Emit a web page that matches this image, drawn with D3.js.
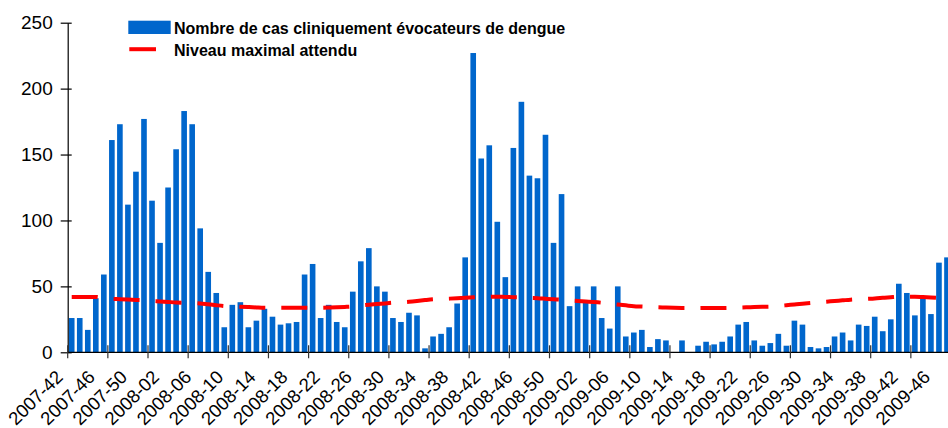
<!DOCTYPE html>
<html>
<head>
<meta charset="utf-8">
<script src="https://cdn.jsdelivr.net/npm/d3@7"></script>
<style>
  html, body { margin: 0; padding: 0; background: #fff; }
  svg { display: block; }
  text { font-family: "Liberation Sans", Arial, sans-serif; fill: #000; }
</style>
</head>
<body>
<svg id="chart" width="948" height="428"></svg>
<script>
// ---- Data ----
const weeks = [
  "2007-42","2007-43","2007-44","2007-45","2007-46","2007-47","2007-48","2007-49","2007-50","2007-51","2007-52",
  "2008-01","2008-02","2008-03","2008-04","2008-05","2008-06","2008-07","2008-08","2008-09","2008-10",
  "2008-11","2008-12","2008-13","2008-14","2008-15","2008-16","2008-17","2008-18","2008-19","2008-20",
  "2008-21","2008-22","2008-23","2008-24","2008-25","2008-26","2008-27","2008-28","2008-29","2008-30",
  "2008-31","2008-32","2008-33","2008-34","2008-35","2008-36","2008-37","2008-38","2008-39","2008-40",
  "2008-41","2008-42","2008-43","2008-44","2008-45","2008-46","2008-47","2008-48","2008-49","2008-50",
  "2008-51","2008-52",
  "2009-01","2009-02","2009-03","2009-04","2009-05","2009-06","2009-07","2009-08","2009-09","2009-10",
  "2009-11","2009-12","2009-13","2009-14","2009-15","2009-16","2009-17","2009-18","2009-19","2009-20",
  "2009-21","2009-22","2009-23","2009-24","2009-25","2009-26","2009-27","2009-28","2009-29","2009-30",
  "2009-31","2009-32","2009-33","2009-34","2009-35","2009-36","2009-37","2009-38","2009-39","2009-40",
  "2009-41","2009-42","2009-43","2009-44","2009-45","2009-46","2009-47"
];

const cases = [
  26, 26, 17, 41, 59, 161, 173, 112, 137, 177, 115,
  83, 125, 154, 183, 173, 94, 61, 45, 19, 36,
  38, 19, 24, 33, 27, 21, 22, 23, 59, 67,
  26, 36, 23, 19, 46, 69, 79, 50, 46, 26,
  23, 30, 28, 3, 12, 14, 19, 37, 72, 227,
  147, 157, 99, 57, 155, 190, 134, 132, 165, 83,
  120, 35,
  50, 38, 50, 26, 18, 50, 12, 15, 17, 4,
  10, 9, 0, 9, 0, 5, 8, 6, 8, 12,
  21, 23, 9, 5, 7, 14, 5, 24, 21, 4,
  3, 4, 12, 15, 9, 21, 20, 27, 16, 25,
  52, 45, 28, 41, 29, 68, 72
];

const expectedMax = [
  42.0, 42.0, 42.0, 42.0, 41.2, 40.5, 40.3, 40.0, 39.7, 39.4, 39.0,
  38.6, 38.2, 37.8, 37.6, 37.4, 37.1, 36.4, 35.7, 35.1, 34.8,
  34.6, 34.3, 34.0, 33.8, 33.8, 33.8, 33.8, 33.8, 33.8, 33.8,
  33.8, 33.9, 34.1, 34.4, 34.8, 35.5, 36.1, 36.6, 37.1, 37.6,
  37.9, 38.3, 38.9, 39.6, 40.2, 40.5, 40.7, 41.0, 41.4, 41.7,
  42.0, 42.2, 42.2, 42.0, 41.8, 41.6, 41.2, 41.0, 40.6, 40.2,
  39.9, 39.3,
  38.9, 38.5, 38.1, 37.6, 36.9, 36.2, 35.6, 35.0, 34.7, 34.4,
  34.1, 33.9, 33.7, 33.6, 33.6, 33.6, 33.6, 33.6, 33.6, 33.7,
  33.9, 34.1, 34.3, 34.5, 34.6, 35.1, 35.7, 36.3, 36.9, 37.4,
  37.9, 38.4, 38.9, 39.4, 39.9, 40.2, 40.5, 40.8, 41.3, 41.8,
  42.2, 42.2, 42.2, 41.9, 41.5, 41.2, 41.0
];

const yTicks = [0, 50, 100, 150, 200, 250];
const seriesNames = ["Nombre de cas cliniquement évocateurs de dengue", "Niveau maximal attendu"];
const labelEvery = 4;   // one week label every 4 weeks
const tickEvery = 5;    // one tick mark every 5 weeks

// ---- Layout ----
const svg = d3.select("#chart");
const plotLeft = 67.7, plotRight = 951, plotTop = 22.7, plotBottom = 352.3;
const BLUE = "#0066CC", RED = "#FF0000";

const x = d3.scaleBand().domain(weeks).range([plotLeft, plotRight])
  .paddingInner(0.3).paddingOuter(0.15);
const y = d3.scaleLinear().domain([0, 250]).range([plotBottom, plotTop]);
const bw = x.bandwidth();
const catStart = w => x(w) - x.step() * x.paddingInner() / 2;

// Bars
svg.append("g").selectAll("rect")
  .data(weeks.map((w, i) => ({ w, v: cases[i] })))
  .join("rect")
  .attr("x", d => x(d.w))
  .attr("y", d => y(d.v))
  .attr("width", bw)
  .attr("height", d => y(0) - y(d.v))
  .attr("fill", BLUE);

// Expected max dashed line
const line = d3.line()
  .x(d => x(d.w) + bw / 2)
  .y(d => y(d.v))
  .curve(d3.curveMonotoneX);
svg.append("path")
  .datum(weeks.map((w, i) => ({ w, v: expectedMax[i] })))
  .attr("d", line)
  .attr("fill", "none")
  .attr("stroke", RED)
  .attr("stroke-width", 4)
  .attr("stroke-dasharray", "26,16");

// Y axis
const yAxis = d3.axisLeft(y).tickValues(yTicks).tickSizeOuter(0).tickSizeInner(7).tickPadding(8);
const gy = svg.append("g").attr("transform", `translate(${plotLeft},0)`).call(yAxis);
gy.select(".domain").attr("stroke", "#000").attr("stroke-width", 1.2);
gy.selectAll(".tick line").attr("x1", 4).attr("x2", -7).attr("stroke", "#000").attr("stroke-width", 1.2);
gy.selectAll(".tick text").attr("font-size", 19).attr("x", -15)
  .style("font-family", "'Liberation Sans', Arial, sans-serif").attr("fill", "#000");

// X axis (custom: ticks every 5 weeks at boundaries, labels every 4 weeks)
const gx = svg.append("g");
gx.append("line")
  .attr("x1", plotLeft).attr("x2", 948)
  .attr("y1", plotBottom).attr("y2", plotBottom)
  .attr("stroke", "#000").attr("stroke-width", 1.2);
gx.selectAll("line.tk")
  .data(weeks.filter((w, i) => i % tickEvery === 0))
  .join("line").attr("class", "tk")
  .attr("x1", d => catStart(d)).attr("x2", d => catStart(d))
  .attr("y1", plotBottom - 7).attr("y2", plotBottom + 6)
  .attr("stroke", "#333").attr("stroke-width", 1.2);
gx.selectAll("text")
  .data(weeks.filter((w, i) => i % labelEvery === 0))
  .join("text")
  .attr("transform", d => `translate(${x(d) + bw / 2 - 7.7},${plotBottom + 26}) rotate(-45)`)
  .attr("text-anchor", "end")
  .attr("font-size", 18.5)
  .text(d => d);

// Legend
const lg = svg.append("g");
lg.append("rect").attr("x", 128.3).attr("y", 20.7).attr("width", 42.4).attr("height", 13.3).attr("fill", BLUE);
lg.append("line").attr("x1", 129.3).attr("x2", 156).attr("y1", 49.2).attr("y2", 49.2)
  .attr("stroke", RED).attr("stroke-width", 4);
lg.append("text").attr("x", 174).attr("y", 34).attr("font-size", 16).attr("font-weight", "bold").text(seriesNames[0]);
lg.append("text").attr("x", 174).attr("y", 55.5).attr("font-size", 16).attr("font-weight", "bold").text(seriesNames[1]);
</script>
</body>
</html>
